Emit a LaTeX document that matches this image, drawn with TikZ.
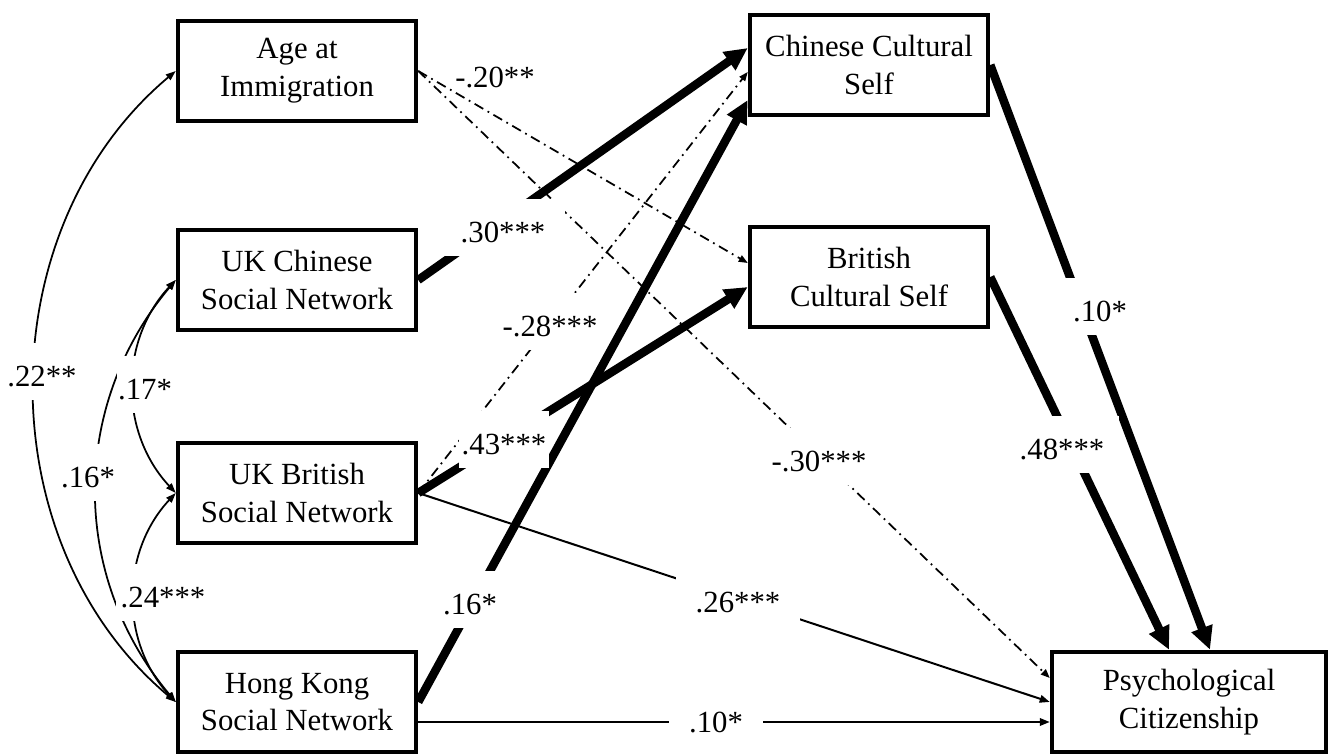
\documentclass[tikz,border=0pt]{standalone}
\usepackage{fontspec}
\setmainfont{Liberation Serif}
\usetikzlibrary{arrows.meta}
\tikzset{every picture/.style={line width=0.75pt}}

\begin{document}
\begin{tikzpicture}[
    font=\fontsize{17.5}{21.5}\selectfont,
    box/.style={draw, line width=0.09cm, minimum width=4.76cm, minimum height=2cm, inner sep=0pt, align=center},
    strongpath/.style={line width=0.17cm, -{Triangle[length=0.46cm,width=0.42cm]}},
    plainpath/.style={line width=0.04cm, -{Triangle[length=0.2cm,width=0.15cm]}},
    dotpath/.style={line width=0.035cm, dash pattern=on 0.2cm off 0.1cm on 0.035cm off 0.1cm, -{Triangle[length=0.18cm,width=0.14cm]}},
    covpath/.style={line width=0.035cm, {Triangle[length=0.2cm,width=0.14cm]}-{Triangle[length=0.2cm,width=0.14cm]}},
    lab/.style={fill=white, anchor=base, text height=0.68cm, text depth=0.06cm, inner ysep=0.2cm, inner xsep=0.4cm}
]
    \useasboundingbox (0,0) rectangle (26.74,15.08);
    % 变量
    \node[box] (age)  at (5.94,13.66) {Age at\\Immigration};
    \node[box] (ucsn) at (5.94,9.48)  {UK Chinese\\Social Network};
    \node[box] (ubsn) at (5.94,5.22)  {UK British\\Social Network};
    \node[box] (hksn) at (5.94,1.04)  {Hong Kong\\Social Network};
    \node[box] (ccs)  at (17.38,13.78) {Chinese Cultural\\Self};
    \node[box] (bcs)  at (17.38,9.54)  {British\\Cultural Self};
    \node[box, minimum width=5.48cm] (pc) at (23.78,1.04) {Psychological\\Citizenship};
    % 路径
    \draw[dotpath] (age.east) -- ([yshift=0.28cm]bcs.west);
    \draw[dotpath] (age.east) -- ([yshift=0.48cm]pc.west);
    \draw[strongpath] (ucsn.east) -- ([yshift=0.34cm]ccs.west);
    \draw[dotpath] (ubsn.east) -- ([yshift=-0.14cm]ccs.west);
    \draw[strongpath] (ubsn.east) -- ([yshift=-0.2cm]bcs.west);
    \draw[plainpath] (ubsn.east) -- (pc.west);
    \draw[strongpath] (hksn.east) -- ([yshift=-0.7cm]ccs.west);
    \draw[plainpath] ([yshift=-0.4cm]hksn.east) -- ([yshift=-0.4cm]pc.west);
    \draw[strongpath] (ccs.east) -- ([xshift=0.42cm]pc.north);
    \draw[strongpath] (bcs.east) -- ([xshift=-0.4cm]pc.north);
    % 相关
    \draw[covpath] (age.west) to[bend right=50] (hksn.west);
    \draw[covpath] (ucsn.west) to[bend right=40] (hksn.west);
    \draw[covpath] (ucsn.west) to[bend right=43] (ubsn.west);
    \draw[covpath] (ubsn.west) to[bend right=43] (hksn.west);
    % 系数
    \node[anchor=base] (c1) at (9.9,13.32) {-.20**};
    \node[lab] (c2)  at (10.06,10.22) {.30***};
    \node[lab, inner xsep=0.15cm] (c3) at (11.0,8.34) {-.28***};
    \node[lab, inner xsep=0.06cm] (c4) at (10.08,5.98) {.43***};
    \node[lab] (c5)  at (16.38,5.64) {-.30***};
    \node[lab] (c6)  at (9.4,2.78)   {.16*};
    \node[lab] (c7)  at (14.76,2.82) {.26***};
    \node[lab] (c8)  at (14.32,0.42) {.10*};
    \node[lab] (c9)  at (22.0,8.64)  {.10*};
    \node[lab, inner xsep=0.3cm] (c10) at (21.24,5.88) {.48***};
    \node[lab] (c11) at (0.84,7.34)  {.22**};
    \node[lab, inner xsep=0.1cm] (c12) at (1.76,5.32) {.16*};
    \node[lab, inner xsep=0.03cm] (c13) at (2.9,7.08) {.17*};
    \node[lab, inner xsep=0.1cm] (c14) at (3.26,2.92) {.24***};
\end{tikzpicture}
\end{document}
